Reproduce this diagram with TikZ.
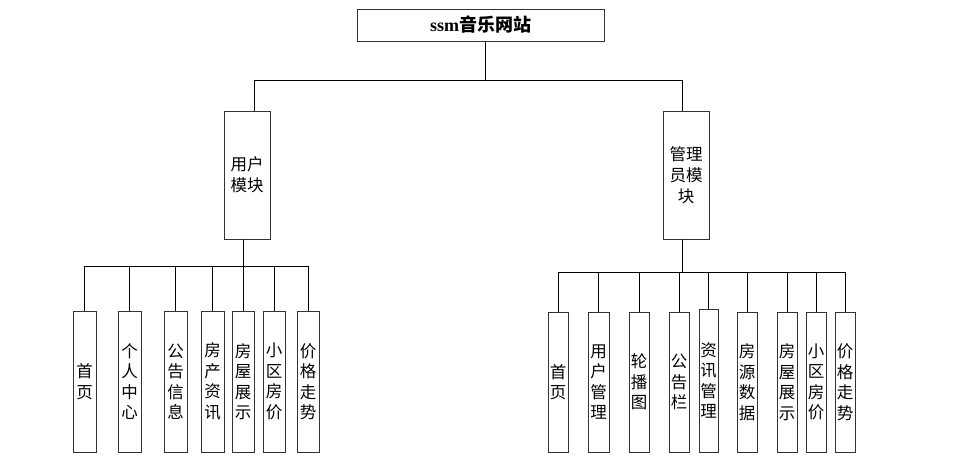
\documentclass[tikz,border=0pt]{standalone}
\usepackage{fontspec}
\setmainfont{Liberation Serif}
\newfontfamily\cjk{Noto Sans CJK SC}
\begin{document}
\begin{tikzpicture}[x=1pt,y=-1pt,
  boxline/.style={draw=black!80, line width=1pt},
  conn/.style={draw=black, line width=1pt},
  rootbox/.style={boxline, inner sep=0pt, minimum width=247, minimum height=32,
    font=\bfseries\fontsize{18}{20}\selectfont},
  modbox/.style={boxline, inner sep=0pt, minimum width=46, minimum height=128,
    align=center, font=\cjk\fontsize{16.5}{21}\selectfont},
  leafl/.style={boxline, inner sep=0pt, minimum width=23, minimum height=141,
    align=center, font=\cjk\fontsize{16.5}{20.5}\selectfont},
  leafr/.style={boxline, inner sep=0pt, minimum width=20, minimum height=140,
    align=center, font=\cjk\fontsize{16.5}{20.5}\selectfont}]
\useasboundingbox (0,0) rectangle (957,472);

\node[rootbox] (root) at (480.5,25) {ssm{\cjk 音乐网站}};

\node[modbox] (um) at (247,175) {用户\\模块};
\node[modbox] (am) at (686,175) {管理\\员模\\块};

% left leaves
\node[leafl] (l1) at (84.5,381.5) {首\\页};
\node[leafl] (l2) at (129.5,381.5) {个\\人\\中\\心};
\node[leafl] (l3) at (175.5,381.5) {公\\告\\信\\息};
\node[leafl] (l4) at (212.5,381.5) {房\\产\\资\\讯};
\node[leafl, minimum width=22] (l5) at (243,381.5) {房\\屋\\展\\示};
\node[leafl, minimum width=22] (l6) at (274,381.5) {小\\区\\房\\价};
\node[leafl, minimum width=22] (l7) at (308,381.5) {价\\格\\走\\势};

% right leaves
\node[leafr] (r1) at (558,382) {首\\页};
\node[leafr, minimum width=21] (r2) at (598.5,382) {用\\户\\管\\理};
\node[leafr] (r3) at (639,382) {轮\\播\\图};
\node[leafr] (r4) at (679,382) {公\\告\\栏};
\node[leafr, minimum width=19, minimum height=143] (r5) at (708.5,380.5) {资\\讯\\管\\理};
\node[leafr] (r6) at (747,382) {房\\源\\数\\据};
\node[leafr] (r7) at (787,382) {房\\屋\\展\\示};
\node[leafr] (r8) at (816,382) {小\\区\\房\\价};
\node[leafr] (r9) at (845,382) {价\\格\\走\\势};

\coordinate (tbus) at (0,80);
\coordinate (lbus) at (0,266);
\coordinate (rbus) at (0,272);

% top level
\draw[conn] ([xshift=4.5pt]root.south) -- ([xshift=4.5pt]root.south |- tbus);
\draw[conn] ([xshift=7pt]um.north) -- ([xshift=7pt]um.north |- tbus) -- ([xshift=-4pt]am.north |- tbus) -- ([xshift=-4pt]am.north);

% left bus
\draw[conn] ([xshift=-4pt]um.south) -- ([xshift=-4pt]um.south |- lbus);
\draw[conn] (l1.north) -- (l1.north |- lbus) -- (l7.north |- lbus) -- (l7.north);
\foreach \n in {l2,l3,l4,l5,l6} \draw[conn] (\n.north) -- (\n.north |- lbus);

% right bus
\draw[conn] ([xshift=-4pt]am.south) -- ([xshift=-4pt]am.south |- rbus);
\draw[conn] (r1.north) -- (r1.north |- rbus) -- (r9.north |- rbus) -- (r9.north);
\foreach \n in {r2,r3,r4,r5,r6,r7,r8} \draw[conn] (\n.north) -- (\n.north |- rbus);
\end{tikzpicture}
\end{document}
